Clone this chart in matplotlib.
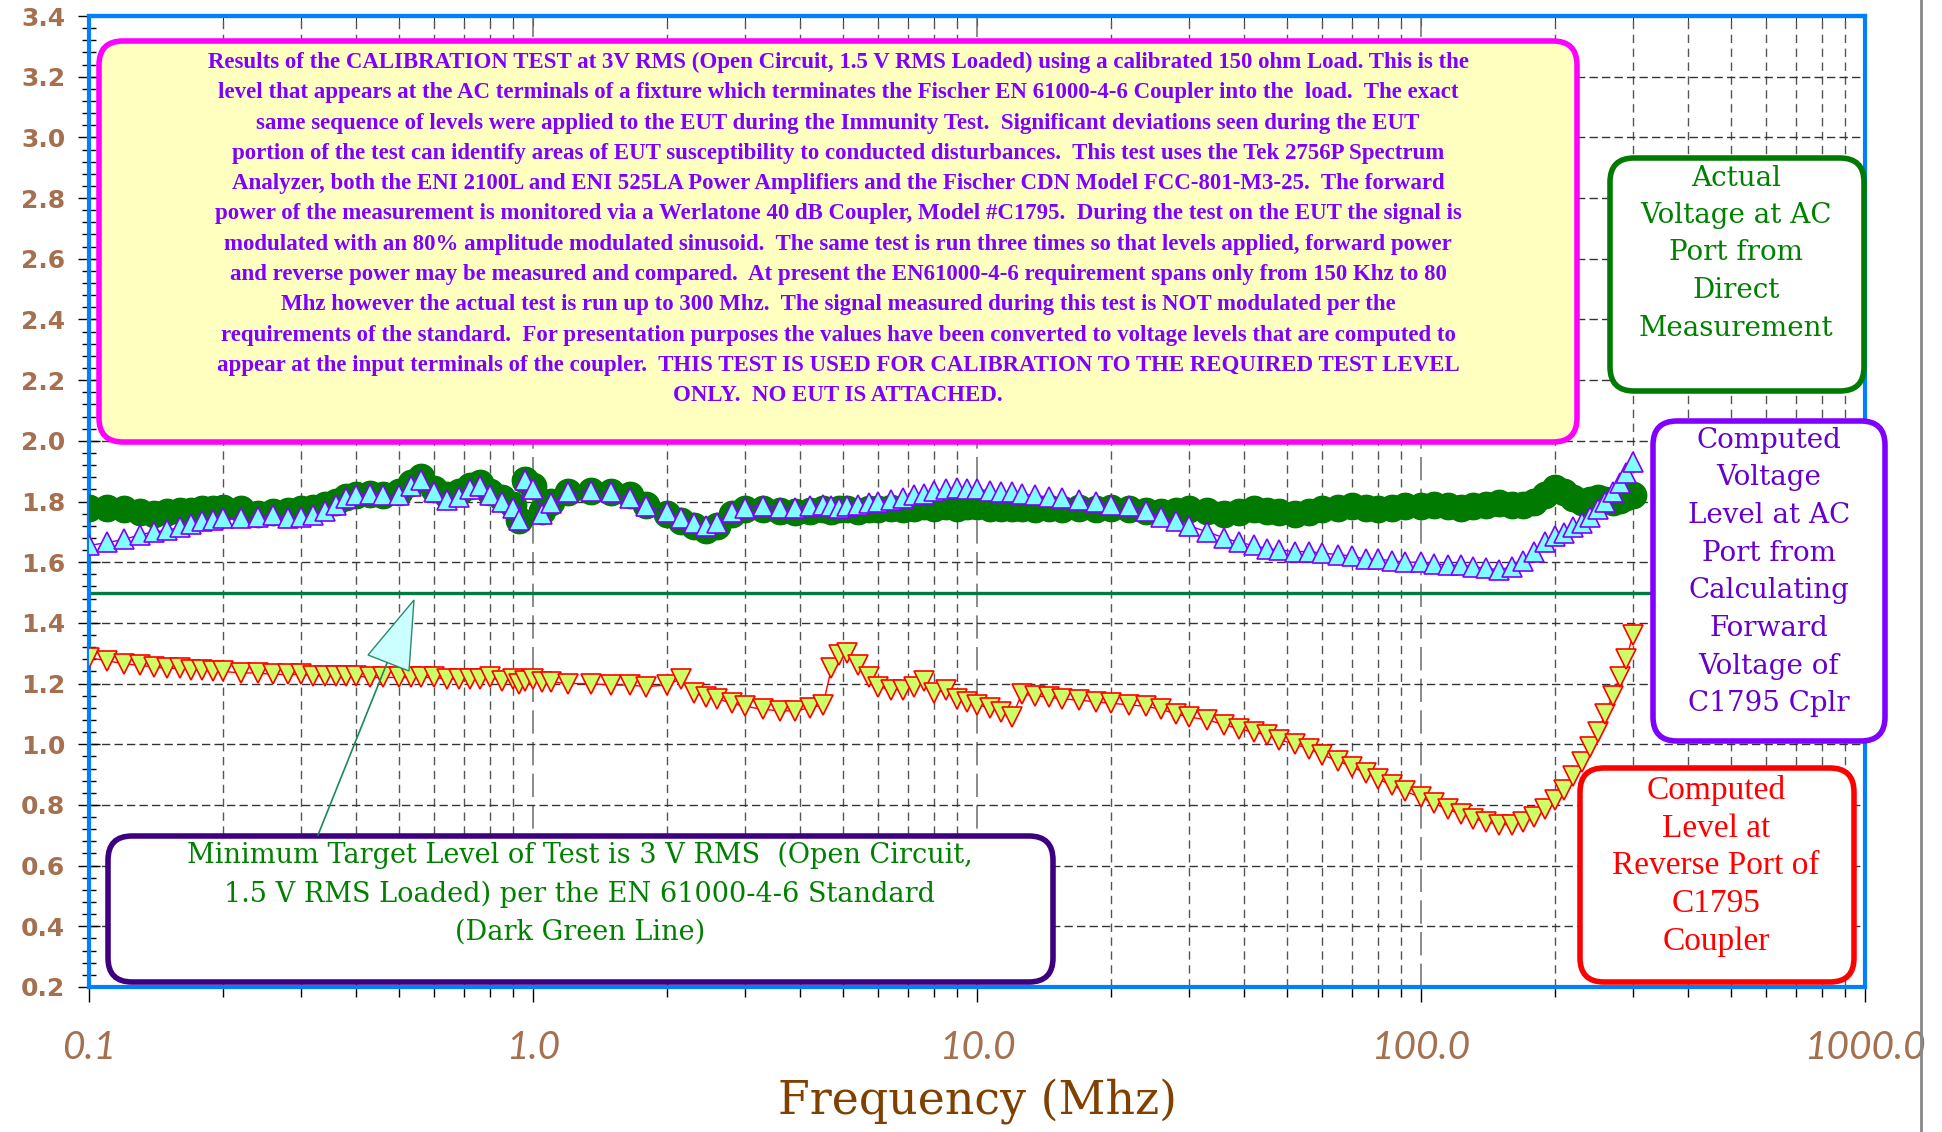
import numpy as np
import matplotlib
matplotlib.use("Agg")
import matplotlib.pyplot as plt
from matplotlib.ticker import MultipleLocator, LogLocator, NullFormatter
from matplotlib.patches import FancyBboxPatch, Polygon

# sweep frequencies (MHz)
freq = [0.10, 0.11, 0.12, 0.13, 0.14, 0.15, 0.16, 0.17, 0.18, 0.19,
        0.20, 0.22, 0.24, 0.26, 0.28, 0.30, 0.32, 0.34, 0.36, 0.38,
        0.40, 0.43, 0.46, 0.50, 0.53, 0.56, 0.60, 0.64, 0.68, 0.72,
        0.76, 0.80, 0.85, 0.90, 0.93, 0.96, 1.00, 1.05, 1.1, 1.2,
        1.35, 1.5, 1.65, 1.8, 2.0, 2.15, 2.3, 2.45, 2.6, 2.8,
        3.0, 3.3, 3.6, 3.9, 4.2, 4.5, 4.7, 4.9, 5.1, 5.4,
        5.7, 6.0, 6.4, 6.8, 7.2, 7.6, 8.0, 8.5, 9.0, 9.5,
        10, 10.7, 11.3, 12, 12.6, 13.5, 14.5, 15.5, 17, 18.5,
        20, 22, 24, 26, 28, 30, 33, 36, 39, 42,
        45, 48, 52, 56, 60, 65, 70, 75, 80, 86,
        92, 100, 107, 115, 123, 131, 140, 150, 160, 170,
        180, 190, 200, 210, 220, 230, 240, 250, 260, 270,
        280, 290, 300]

# actual voltage at AC port (direct measurement)
actual_v = [1.78, 1.78, 1.775, 1.765, 1.76, 1.765, 1.77, 1.77, 1.775, 1.775,
            1.78, 1.775, 1.76, 1.765, 1.77, 1.775, 1.78, 1.79, 1.80, 1.815,
            1.82, 1.825, 1.82, 1.83, 1.86, 1.88, 1.84, 1.82, 1.83, 1.85,
            1.86, 1.83, 1.81, 1.79, 1.74, 1.87, 1.85, 1.77, 1.80, 1.83,
            1.835, 1.83, 1.82, 1.79, 1.76, 1.735, 1.72, 1.705, 1.72, 1.76,
            1.775, 1.775, 1.77, 1.765, 1.77, 1.775, 1.77, 1.775, 1.775, 1.77,
            1.775, 1.775, 1.78, 1.775, 1.78, 1.785, 1.78, 1.785, 1.78, 1.785,
            1.785, 1.78, 1.78, 1.78, 1.78, 1.775, 1.78, 1.775, 1.78, 1.775,
            1.78, 1.775, 1.77, 1.765, 1.77, 1.775, 1.77, 1.76, 1.765, 1.775,
            1.77, 1.765, 1.76, 1.765, 1.775, 1.78, 1.785, 1.78, 1.775, 1.78,
            1.785, 1.785, 1.79, 1.785, 1.78, 1.785, 1.79, 1.795, 1.79, 1.79,
            1.80, 1.82, 1.845, 1.83, 1.81, 1.80, 1.805, 1.81, 1.805, 1.80,
            1.805, 1.815, 1.82]

# computed voltage from forward power
forward_v = [1.655, 1.665, 1.675, 1.69, 1.70, 1.705, 1.715, 1.725, 1.735, 1.74,
             1.745, 1.745, 1.75, 1.755, 1.745, 1.75, 1.755, 1.77, 1.79, 1.81,
             1.82, 1.825, 1.82, 1.82, 1.85, 1.87, 1.83, 1.805, 1.815, 1.84,
             1.85, 1.82, 1.80, 1.78, 1.74, 1.87, 1.84, 1.76, 1.795, 1.83,
             1.835, 1.83, 1.81, 1.785, 1.765, 1.745, 1.73, 1.72, 1.73, 1.765,
             1.78, 1.785, 1.78, 1.78, 1.785, 1.79, 1.785, 1.78, 1.785, 1.79,
             1.795, 1.80, 1.805, 1.81, 1.82, 1.825, 1.835, 1.84, 1.845, 1.84,
             1.84, 1.835, 1.83, 1.83, 1.825, 1.82, 1.815, 1.81, 1.805, 1.80,
             1.79, 1.785, 1.77, 1.75, 1.735, 1.72, 1.70, 1.68, 1.665, 1.655,
             1.645, 1.64, 1.635, 1.635, 1.63, 1.625, 1.62, 1.61, 1.61, 1.605,
             1.60, 1.60, 1.595, 1.59, 1.59, 1.585, 1.58, 1.575, 1.585, 1.605,
             1.635, 1.665, 1.685, 1.695, 1.715, 1.73, 1.75, 1.775, 1.80, 1.83,
             1.86, 1.895, 1.93]

# computed level at reverse port
reverse_v = [1.285, 1.275, 1.265, 1.26, 1.255, 1.25, 1.25, 1.245, 1.245, 1.24,
             1.24, 1.235, 1.235, 1.23, 1.23, 1.23, 1.225, 1.225, 1.225, 1.225,
             1.225, 1.22, 1.22, 1.22, 1.22, 1.22, 1.22, 1.215, 1.215, 1.215,
             1.215, 1.22, 1.21, 1.215, 1.20, 1.21, 1.215, 1.205, 1.205, 1.20,
             1.20, 1.195, 1.195, 1.19, 1.195, 1.215, 1.17, 1.155, 1.15, 1.135,
             1.125, 1.115, 1.11, 1.11, 1.12, 1.13, 1.25, 1.295, 1.30, 1.26,
             1.22, 1.19, 1.18, 1.18, 1.19, 1.21, 1.17, 1.18, 1.15, 1.14,
             1.13, 1.12, 1.105, 1.09, 1.165, 1.16, 1.155, 1.15, 1.145, 1.14,
             1.135, 1.13, 1.125, 1.115, 1.10, 1.09, 1.08, 1.065, 1.05, 1.04,
             1.03, 1.015, 1.00, 0.985, 0.965, 0.945, 0.925, 0.905, 0.885, 0.865,
             0.845, 0.825, 0.805, 0.785, 0.77, 0.755, 0.745, 0.735, 0.735, 0.745,
             0.76, 0.785, 0.815, 0.85, 0.895, 0.94, 0.99, 1.04, 1.10, 1.16,
             1.22, 1.28, 1.36]

target_level = 1.5

x_ticks = [0.1, 1, 10, 100, 1000]
x_labels = ["0.1", "1.0", "10.0", "100.0", "1000.0"]

big_text = ("Results of the CALIBRATION TEST at 3V RMS (Open Circuit, 1.5 V RMS Loaded) using a calibrated 150 ohm Load. This is the\n"
            "level that appears at the AC terminals of a fixture which terminates the Fischer EN 61000-4-6 Coupler into the  load.  The exact\n"
            "same sequence of levels were applied to the EUT during the Immunity Test.  Significant deviations seen during the EUT\n"
            "portion of the test can identify areas of EUT susceptibility to conducted disturbances.  This test uses the Tek 2756P Spectrum\n"
            "Analyzer, both the ENI 2100L and ENI 525LA Power Amplifiers and the Fischer CDN Model FCC-801-M3-25.  The forward\n"
            "power of the measurement is monitored via a Werlatone 40 dB Coupler, Model #C1795.  During the test on the EUT the signal is\n"
            "modulated with an 80% amplitude modulated sinusoid.  The same test is run three times so that levels applied, forward power\n"
            "and reverse power may be measured and compared.  At present the EN61000-4-6 requirement spans only from 150 Khz to 80\n"
            "Mhz however the actual test is run up to 300 Mhz.  The signal measured during this test is NOT modulated per the\n"
            "requirements of the standard.  For presentation purposes the values have been converted to voltage levels that are computed to\n"
            "appear at the input terminals of the coupler.  THIS TEST IS USED FOR CALIBRATION TO THE REQUIRED TEST LEVEL\n"
            "ONLY.  NO EUT IS ATTACHED.")
actual_text = "Actual\nVoltage at AC\nPort from\nDirect\nMeasurement"
forward_text = "Computed\nVoltage\nLevel at AC\nPort from\nCalculating\nForward\nVoltage of\nC1795 Cplr"
reverse_text = "Computed\nLevel at\nReverse Port of\nC1795\nCoupler"
target_text = ("Minimum Target Level of Test is 3 V RMS  (Open Circuit,\n"
               "1.5 V RMS Loaded) per the EN 61000-4-6 Standard\n(Dark Green Line)")

W, H = 1942, 1132
fig = plt.figure(figsize=(W / 100, H / 100), dpi=100)
fig.patch.set_facecolor("white")

L, R, T, B = 89, 1865, 16, 987
ax = fig.add_axes([L / W, 1 - B / H, (R - L) / W, (B - T) / H])
ax.set_xscale("log")
ax.set_xlim(0.1, 1000)
ax.set_ylim(0.2, 3.4)

ax.axhline(target_level, color="#007a3d", lw=2.4, zorder=2)
ax.plot(freq, reverse_v, color="red", lw=1, marker="v", ms=14,
        mfc="#ccff66", mec="red", mew=1.2, zorder=3)
ax.plot(freq, actual_v, color="#007a00", lw=1, marker="o", ms=19,
        mfc="#007a00", mec="#007a00", zorder=4)
ax.plot(freq, forward_v, color="#8000ff", lw=1, marker="^", ms=14,
        mfc="#80ffff", mec="#8000ff", mew=1.2, zorder=5)

brown = "#a5704f"
ax.yaxis.set_major_locator(MultipleLocator(0.2))
ax.yaxis.set_minor_locator(MultipleLocator(0.04))
ax.yaxis.set_major_formatter(matplotlib.ticker.FormatStrFormatter("%.1f"))
ax.tick_params(axis="y", which="major", direction="inout", length=16, width=1,
               labelsize=18, labelcolor=brown, pad=9)
ax.tick_params(axis="y", which="minor", direction="inout", length=10, width=1)
for lab in ax.get_yticklabels():
    lab.set_fontweight("bold")

ax.set_xticks(x_ticks)
ax.set_xticklabels(x_labels, fontstyle="italic", fontfamily="Lato",
                   fontweight="normal", fontsize=28, color=brown)
ax.xaxis.set_minor_locator(LogLocator(base=10, subs=range(2, 10)))
ax.xaxis.set_minor_formatter(NullFormatter())
ax.tick_params(axis="x", which="major", direction="out", length=11, width=1, pad=20)
ax.tick_params(axis="x", which="minor", direction="out", length=7, width=1)

top = ax.secondary_xaxis("top")
top.xaxis.set_minor_locator(LogLocator(base=10, subs=range(2, 10)))
top.set_xticks(x_ticks)
top.tick_params(which="both", direction="in", length=7, labeltop=False)
top.spines["top"].set_color("#0080ff")
top.spines["top"].set_linewidth(3)

for s in ax.spines.values():
    s.set_color("#0080ff")
    s.set_linewidth(3)

ax.set_axisbelow(True)
ax.grid(True, which="major", axis="y", color="#333333", ls=(0, (6, 3)), lw=1)
ax.grid(True, which="minor", axis="x", color="#555555", ls=(0, (6, 4)), lw=1)
ax.grid(True, which="major", axis="x", color="#777777", ls=(0, (14, 5)), lw=1.2)

ax.set_xlabel("Frequency (Mhz)", fontfamily="DejaVu Serif", fontsize=33, color="#804000")
ax.xaxis.set_label_coords(0.5, (B - 1102) / (B - T))
ax.xaxis.label.set_va("center")

# overlay in pixel coordinates for the annotation boxes
ov = fig.add_axes([0, 0, 1, 1], zorder=10)
ov.set_xlim(0, W)
ov.set_ylim(H, 0)
ov.axis("off")
ov.patch.set_alpha(0)


def rbox(x0, y0, x1, y1, edge, face="white", lw=4, r=24):
    ov.add_patch(FancyBboxPatch((x0, y0), x1 - x0, y1 - y0,
                                boxstyle=f"round,pad=0,rounding_size={r}",
                                fc=face, ec=edge, lw=lw))


rbox(99, 41, 1577, 442, "#ff00ff", face="#ffffc0")
rbox(1610, 158, 1864, 391, "#007a00")
rbox(1653, 421, 1885, 741, "#8000ff")
rbox(1580, 768, 1854, 982, "#ff0000")
rbox(108, 836, 1053, 982, "#3d0080")

ov.text(838, 229, big_text, ha="center", va="center", fontfamily="Liberation Serif",
        fontweight="bold", fontsize=16.5, color="#8000ff", linespacing=1.58)
ov.text(1736, 253, actual_text, ha="center", va="center", fontfamily="DejaVu Serif",
        fontsize=20, color="#008000", linespacing=1.5)
ov.text(1769, 572, forward_text, ha="center", va="center", fontfamily="DejaVu Serif",
        fontsize=20, color="#6600cc", linespacing=1.51)
ov.text(1716, 866, reverse_text, ha="center", va="center", fontfamily="Liberation Serif",
        fontsize=24, color="#ff0000", linespacing=1.31)
ov.text(580, 894, target_text, ha="center", va="center", fontfamily="DejaVu Serif",
        fontsize=19.5, color="#008000", linespacing=1.52)

# callout pointing at the target line
ov.add_patch(Polygon([(414, 600), (368, 655), (409, 671)], closed=True,
                     fc="#ccffff", ec="#2a8a6a", lw=1))
ov.plot([387, 318], [663, 835], color="#1a8a5a", lw=1.2)
ov.plot([1921, 1921], [0, H], color="#888888", lw=2)

fig.savefig("out.png", dpi=100)
